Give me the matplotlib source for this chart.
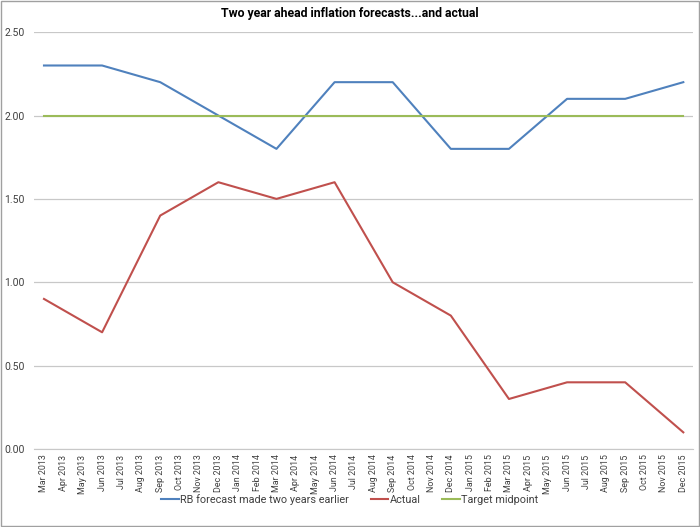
import matplotlib
matplotlib.use("Agg")
import matplotlib.pyplot as plt
from matplotlib.patches import Rectangle

# monthly axis labels, Mar 2013 .. Dec 2015
months = ["Jan", "Feb", "Mar", "Apr", "May", "Jun",
          "Jul", "Aug", "Sep", "Oct", "Nov", "Dec"]
labels = []
for year in (2013, 2014, 2015):
    for m in months:
        labels.append(f"{m} {year}")
labels = labels[2:]

# quarterly observations (month index into labels)
quarter_idx = [0, 3, 6, 9, 12, 15, 18, 21, 24, 27, 30, 33]
rb_forecast = [2.3, 2.3, 2.2, 2.0, 1.8, 2.2, 2.2, 1.8, 1.8, 2.1, 2.1, 2.2]
actual = [0.9, 0.7, 1.4, 1.6, 1.5, 1.6, 1.0, 0.8, 0.3, 0.4, 0.4, 0.1]
target = [2.0] * len(quarter_idx)

plt.rcParams['font.family'] = ['Roboto', 'DejaVu Sans']

fig = plt.figure(figsize=(7, 5.27), dpi=100)
ax = fig.add_axes([0.049, 0.148, 0.941, 0.791])

ax.plot(quarter_idx, rb_forecast, color="#4F81BD", lw=1.5,
        label="RB forecast made two years earlier")
ax.plot(quarter_idx, actual, color="#C0504D", lw=1.5, label="Actual")
ax.plot(quarter_idx, target, color="#9BBB59", lw=1.5, label="Target midpoint")

ax.set_xlim(-0.5, 33.5)
ax.set_ylim(0, 2.5)
yt = [0, 0.5, 1.0, 1.5, 2.0, 2.5]
ax.set_yticks(yt)
ax.set_yticklabels([f"{v:.2f}" for v in yt], fontsize=7.5)
ax.set_xticks(range(len(labels)))
ax.set_xticklabels(labels, rotation=90, fontsize=6.4)
ax.tick_params(axis="both", length=0, colors="#404040")
ax.tick_params(axis="y", pad=7)
ax.tick_params(axis="x", pad=4)
ax.grid(axis="y", color="#C8C8C8", lw=0.9)
ax.set_axisbelow(True)
for side in ("top", "right", "left"):
    ax.spines[side].set_visible(False)
ax.spines["bottom"].set_color("#C8C8C8")

fig.text(0.5, 0.975, "Two year ahead inflation forecasts...and actual",
         ha="center", va="center", fontsize=8.8, fontweight="bold")

fig.legend(loc="center", bbox_to_anchor=(0.5, 0.052), ncol=3, frameon=False,
           fontsize=7.8, handlelength=1.6, handletextpad=0.15, columnspacing=2.0,
           labelcolor="#404040")

fig.patches.append(Rectangle((0.001, 0.001), 0.997, 0.997, transform=fig.transFigure,
                             fill=False, edgecolor="#A0A0A0", lw=1))

fig.savefig("out.png", dpi=100)
